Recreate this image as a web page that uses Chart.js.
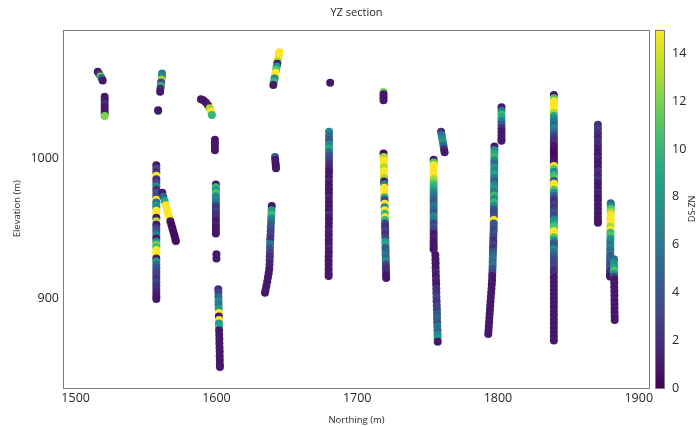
<!DOCTYPE html>
<html>
<head>
<meta charset="utf-8">
<title>YZ section</title>
<script src="https://cdn.jsdelivr.net/npm/chart.js@4.4.0/dist/chart.umd.min.js"></script>
<style>
  html, body { margin: 0; padding: 0; background: #ffffff; }
  canvas { display: block; }
</style>
</head>
<body>
<canvas id="section" width="699" height="426"></canvas>
<script>
// Drillhole samples projected on the YZ plane: [northing (m), elevation (m), DS-ZN]
const dh01 = [[1515.7,1061.9,1],[1516.8,1060.0,2],[1517.7,1058.4,12],[1518.4,1057.3,6],[1519.2,1055.6,1]];
const dh02 = [[1520.6,1044.0,1],[1520.6,1041.5,1],[1520.6,1039.0,2],[1520.6,1036.5,1],[1520.6,1034.0,1],[1520.6,1032.0,1],[1520.6,1030.2,12]];
const dh03 = [[1561.4,1060.5,6],[1561.2,1058.4,7],[1560.9,1056.2,13],[1560.7,1054.1,3],[1560.5,1051.9,10],[1560.2,1049.8,2],[1560.0,1047.6,1],
  [1558.6,1033.8,9],[1558.6,1034.4,1]];
const dh04 = [[1557.3,995,1],[1557.3,992.5,3],[1557.3,990,2],[1557.3,987.5,15],[1557.3,985,2],[1557.3,982.5,3],[1557.3,980,7],
  [1557.3,977.5,2],[1557.3,975,4],[1557.3,972.5,3],[1557.3,970.5,15],[1557.3,968.5,5],[1557.3,966.5,8],[1557.3,964.5,7],
  [1557.3,962.5,15],[1557.3,960,15],[1557.3,957.5,1],[1557.3,955,13],[1557.3,952.5,1],[1557.3,950,3],[1557.3,947.5,4],
  [1557.3,945,7],[1557.3,942.8,1],[1557.3,940.5,8],[1557.3,938.3,12],[1557.3,936.5,10],[1557.3,934.5,15],[1557.3,932.5,15],
  [1557.3,930.5,15],[1557.3,928.5,1],[1557.3,926.3,8],[1557.3,924,5],[1557.3,921.5,4],[1557.3,919,3],[1557.3,916.5,3],
  [1557.3,914,2],[1557.3,911.5,3],[1557.3,909,2],[1557.3,906.5,2],[1557.3,904,1.5],[1557.3,901.5,1],[1557.3,899.5,1]];
const dh05 = [[1561.5,975.5,1],[1562.3,972.5,5],[1563.2,969.5,9],[1564.0,966.5,15],[1564.8,963.5,15],[1565.7,960.5,15],
  [1566.5,957.5,15],[1567.3,955.0,1],[1568.0,952.5,0.5],[1568.7,950.0,0.5],[1569.4,947.5,0.5],[1570.1,945.0,0.5],
  [1570.7,942.5,0.5],[1571.2,941.0,0.5]];
const dh06 = [[1589.0,1042.2,1],[1590.7,1041.5,1],[1592.5,1039.8,1],[1594.0,1037.9,1],[1595.2,1035.8,13],[1596.1,1033.3,15],[1596.8,1030.9,10]];
const dh07 = [[1598.9,1013.2,1],[1598.9,1010.8,1],[1598.9,1008.3,1],[1598.9,1005.8,1],
  [1599.6,981.4,1],[1599.6,979.3,10],[1599.6,977.2,8],[1599.6,975.0,11],[1599.6,972.9,7],[1599.6,970.8,7],[1599.6,968.7,6],
  [1599.6,966.6,4],[1599.6,964.5,2],[1599.6,962.4,3],[1599.6,960.2,2],[1599.6,958.0,2],[1599.6,955.5,1],[1599.6,953.0,1.5],
  [1599.6,950.5,1],[1599.6,948.3,1],[1599.6,946.3,1],
  [1600.0,931.5,1],[1600.0,928.5,1],
  [1601.3,906.5,2],[1601.4,904,3],[1601.4,901,5],[1601.5,898,7],[1601.5,895.5,6],[1601.6,892.5,8],[1601.7,889.5,15],
  [1601.7,887,1],[1601.8,884.5,15],[1601.8,882,8],[1601.9,879.5,9],[1601.9,877,1],[1602.0,874,1],[1602.1,871,1],
  [1602.1,868,1],[1602.2,865,1],[1602.3,862,1],[1602.3,859,1],[1602.4,856,1],[1602.4,853,1],[1602.5,851,1]];
const dh08 = [[1644.7,1075.8,15],[1644.3,1073.6,15],[1643.9,1071.5,15],[1643.5,1069.4,13],[1643.2,1067.6,1],[1642.8,1065.5,8],
  [1642.4,1063.3,11],[1642.0,1061.2,15],[1641.6,1059.1,15],[1641.3,1057.0,7],[1640.9,1054.9,10],[1640.4,1052.4,1]];
const dh09 = [[1641.6,1001,4],[1641.8,998.8,1],[1642.0,996.5,1],[1642.2,994.5,1],[1642.3,993,1]];
const dh10 = [[1639.3,966,1],[1639.2,963,8],[1639.0,960,10],[1638.9,957,7],[1638.8,954,5],[1638.6,951,4],[1638.5,948,3],
  [1638.4,945,3],[1638.2,942,2],[1638.1,939,6],[1638.0,936,4],[1638.0,933,3],[1637.9,930,2],[1637.8,927,2],[1637.7,924,1.5],
  [1637.5,921,1],[1637.1,918,1],[1636.6,915,1],[1636.1,912,1],[1635.5,909,1],[1634.9,906,1],[1634.5,904,1]];
const dh11 = [[1680.8,1054.0,1]];
const dh12 = [[1680.0,1019,7],[1680.0,1016,5],[1680.0,1013,4],[1680.0,1010,7],[1680.0,1007,9],[1680.0,1004.5,6],[1680.0,1002,4],
  [1680.0,999,3],[1680.0,996,2],[1680.0,993,1.5],[1680.0,990,1],[1679.9,987,1],[1679.9,984,1.5],[1679.9,981,1],[1679.9,978,1],
  [1679.9,975,1],[1679.9,972,1.5],[1679.9,969,1],[1679.9,966,1],[1679.9,963,1],[1679.9,960,2],[1679.9,957,1],[1679.9,954,1],
  [1679.8,951,1],[1679.8,948,1.5],[1679.8,945,1],[1679.8,942,1],[1679.8,939,1],[1679.8,936,1.5],[1679.8,933,1],[1679.7,930,1],
  [1679.7,927,1],[1679.7,924,1],[1679.7,921,1],[1679.7,918,1],[1679.7,916,1]];
const dh13 = [[1718.7,1047.3,12],[1718.7,1045.8,1],[1718.7,1043.6,1],[1718.7,1041.4,1],
  [1718.7,1003.5,0.5],[1718.8,1001,13],[1718.8,998.5,15],[1718.9,996,15],[1718.9,993.5,13],[1719.0,991,15],[1719.0,988.5,15],
  [1719.1,986,13],[1719.1,983.5,1],[1719.2,981.5,7],[1719.2,979,15],[1719.3,976.5,15],[1719.3,974,15],[1719.4,972,9],
  [1719.4,970,3],[1719.5,967.5,15],[1719.5,965,7],[1719.6,963,15],[1719.6,960.5,10],[1719.7,958,15],[1719.7,956,10],
  [1719.8,953.5,3],[1719.8,951,2],[1719.9,948.5,3],[1719.9,946,2],[1720.0,943.5,3],[1720.0,940.5,8],[1720.1,938.5,9],
  [1720.1,936,4],[1720.2,933.5,5],[1720.2,931,6],[1720.3,928.5,5],[1720.3,926.5,7],[1720.4,924,3],[1720.4,921.5,2],
  [1720.5,919,2],[1720.5,916.5,1],[1720.6,914.5,1]];
const dh14 = [[1759.6,1019,2],[1760.0,1016.5,6],[1760.4,1014,7],[1760.9,1011.5,8],[1761.3,1009,5],[1761.7,1006.5,2],[1762.1,1004.3,1]];
const dh15 = [[1754.3,999,1],[1754.3,997,11],[1754.3,995,15],[1754.3,992.5,15],[1754.3,990,15],[1754.3,987.5,15],[1754.3,985,13],
  [1754.3,983,12],[1754.3,981,10],[1754.3,978.5,9],[1754.3,976,7],[1754.3,973.5,6],[1754.3,971,5],[1754.3,968.5,4],
  [1754.3,966,6],[1754.3,963.5,5],[1754.3,961,4],[1754.3,958.5,7],[1754.3,956,6],[1754.3,953.5,3],[1754.3,951,4],
  [1754.3,948.5,3],[1754.3,946,1],[1754.3,943.5,1.5],[1754.3,941,1],[1754.3,938.5,1],[1754.3,936.5,1],[1754.3,935,1],
  [1755.5,931,1],[1755.6,928,1],[1755.7,925,1],[1755.7,922,1],[1755.8,919,1.5],[1755.9,916,1],[1756.0,913,1.5],[1756.1,910,1],
  [1756.2,907,2],[1756.2,904,2],[1756.3,901,3],[1756.4,898,2],[1756.5,895,3],[1756.6,892,3],[1756.7,889,4],[1756.7,886,5],
  [1756.8,883,4],[1756.9,880,6],[1757.0,877,5],[1757.1,874,7],[1757.1,871.5,8],[1757.2,869,1]];
const dh16 = [[1802.5,1036.5,1],[1802.5,1034,6],[1802.5,1031.5,10],[1802.5,1029,9],[1802.5,1026.5,6],[1802.5,1024,4],
  [1802.5,1021.5,2],[1802.5,1019,1],[1802.5,1016.5,1],[1802.5,1014,1],[1802.5,1012.5,1]];
const dh17 = [[1797.5,1008.5,1],[1797.5,1006,7],[1797.5,1003.5,9],[1797.4,1001,10],[1797.4,998.5,7],[1797.4,996,5],[1797.4,993.5,8],
  [1797.3,991,7],[1797.3,988.5,9],[1797.3,986,6],[1797.3,983.5,4],[1797.3,981,7],[1797.2,978.5,8],[1797.2,976,6],
  [1797.2,973.5,10],[1797.2,971,7],[1797.1,968.5,10],[1797.1,966,7],[1797.1,963.5,4],[1797.1,961,3],[1797.1,958.5,4],
  [1797.0,956,15],[1797.0,953.5,4],[1797.0,951,4],[1796.9,948.5,3],[1796.8,946,4],[1796.7,943.5,3],[1796.7,941,2],
  [1796.6,938.5,3],[1796.5,936,2],[1796.4,933.5,4],[1796.4,931,5],[1796.3,928.5,6],[1796.2,926,5],[1796.2,923.5,6],
  [1796.1,921,4],[1796.0,918.5,3],[1795.9,916,1],[1795.8,913,1],[1795.6,910,1],[1795.4,907,1],[1795.2,904,1],[1794.9,901,1],
  [1794.7,898,1],[1794.5,895,1],[1794.3,892,1],[1794.1,889,1],[1793.9,886,1],[1793.7,883,1],[1793.5,880,1],[1793.3,877,1],
  [1793.1,874.6,1]];
const dh18 = [[1839.7,1045.2,1],[1839.7,1042.9,11],[1839.7,1040.7,15],[1839.7,1038.6,15],[1839.7,1036.5,15],[1839.7,1034.4,15],
  [1839.7,1032.3,13],[1839.7,1030.2,9],[1839.7,1028.1,7],[1839.7,1025.9,6],[1839.7,1023.8,5],[1839.7,1021.7,7],[1839.7,1019.6,6],
  [1839.7,1017.4,4],[1839.7,1015.3,3],[1839.7,1013.2,2],[1839.7,1011.1,2],[1839.7,1009,1],[1839.7,1006.8,1],[1839.7,1004.7,0.5],
  [1839.7,1002.6,0.5],[1839.7,1000.5,0.5],[1839.7,998.4,1],[1839.7,996.3,1],[1839.7,994.5,15],[1839.7,992.4,11],[1839.7,990.3,7],
  [1839.7,988.1,10],[1839.7,986,11],[1839.7,983.9,4],[1839.7,981.8,15],[1839.7,979.7,15],[1839.7,977.5,11],[1839.7,975.4,8],
  [1839.7,973.3,5],[1839.7,971.2,3],[1839.7,969.1,2],[1839.7,967,3],[1839.7,964.8,2],[1839.7,962.7,3],[1839.7,960.6,4],
  [1839.7,958.5,3],[1839.7,956.4,7],[1839.7,954.2,8],[1839.7,952.1,10],[1839.7,950,11],[1839.7,947.9,15],[1839.7,945.8,15],
  [1839.7,943.6,11],[1839.7,941.5,8],[1839.7,939.4,4],[1839.7,937.3,4],[1839.7,935.2,7],[1839.7,933.1,6],[1839.7,930.9,5],
  [1839.7,928.8,4],[1839.7,926.7,3],[1839.7,924.6,3],[1839.7,922.5,3],[1839.7,920.3,2],[1839.7,918.2,2],[1839.7,915,1],
  [1839.7,912,1],[1839.7,909,1],[1839.7,906,1],[1839.7,903,1],[1839.7,900,1],[1839.7,897,1],[1839.7,894,1],[1839.7,891,1],
  [1839.7,888,1],[1839.7,885,1],[1839.7,882,1],[1839.7,879,1],[1839.7,876,1],[1839.7,873,1],[1839.7,870,1]];
const dh19 = [[1871.0,1024,2],[1871.0,1021,2.5],[1871.0,1018,2],[1871.0,1015,1.5],[1871.0,1012,2],[1871.0,1009,1.5],[1871.0,1006,1],
  [1871.0,1003,1],[1871.0,1000,1.5],[1871.0,997,1],[1871.0,994,1],[1871.0,991,2],[1871.0,988,1.5],[1871.0,985,2],[1871.0,982,1],
  [1871.0,979,1],[1871.0,976,1.5],[1871.0,973,1],[1871.0,970,1],[1871.0,967,1],[1871.0,964,1],[1871.0,961,1],[1871.0,958,1],
  [1871.0,955,1],[1871.0,954,1]];
const dh20 = [[1880.1,968,5],[1880.1,965.9,7],[1880.1,963.8,11],[1880.0,961.6,13],[1880.0,959.5,15],[1880.0,957.4,15],
  [1880.0,955.3,15],[1880.0,953.2,15],[1879.9,951.1,13],[1879.9,948.9,15],[1879.9,946.8,10],[1879.9,944.7,11],[1879.9,942.6,8],
  [1879.8,940.5,7],[1879.8,938.3,6],[1879.8,936.2,7],[1879.8,934.1,5],[1879.8,932,6],[1879.7,929.9,4],[1879.7,927.8,5],
  [1879.7,925.6,4],[1879.7,923.5,3],[1879.7,921.4,4],[1879.6,919.3,2],[1879.6,917.2,2],[1879.6,915.7,1]];
const dh21 = [[1882.4,928,5],[1882.4,926,7],[1882.4,923.9,8],[1882.5,921.8,9],[1882.5,919.6,11],[1882.5,917.5,8],[1882.5,915.4,3],
  [1882.6,913.3,1],[1882.6,911,1],[1882.6,908,1],[1882.7,905,1],[1882.7,902,1],[1882.7,899,1],[1882.8,896,1],[1882.8,893,1],
  [1882.8,890,1],[1882.9,887,1],[1882.9,884.5,1]];

const drillholes = [dh01, dh02, dh03, dh04, dh05, dh06, dh07, dh08, dh09, dh10, dh11,
                    dh12, dh13, dh14, dh15, dh16, dh17, dh18, dh19, dh20, dh21];

// Axis ticks and colour scale range
const northingTicks = [1500, 1600, 1700, 1800, 1900];
const elevationTicks = [900, 1000];
const gradeTicks = [0, 2, 4, 6, 8, 10, 12, 14];
const gradeMin = 0, gradeMax = 15;

const chartTitle = 'YZ section';
const xTitle = 'Northing (m)';
const yTitle = 'Elevation (m)';
const gradeLabel = 'DS-ZN';

// viridis colour map
const VIRIDIS = ['#440154','#482475','#414487','#355f8d','#2a788e','#21918c','#22a884','#44bf70','#7ad151','#bddf26','#fde725'];
function hexRgb(h) { return [1, 3, 5].map(i => parseInt(h.slice(i, i + 2), 16)); }
const VIRIDIS_RGB = VIRIDIS.map(hexRgb);
function viridis(value) {
  let t = (value - gradeMin) / (gradeMax - gradeMin);
  t = Math.max(0, Math.min(1, t));
  const p = t * (VIRIDIS_RGB.length - 1);
  const i = Math.min(Math.floor(p), VIRIDIS_RGB.length - 2);
  const f = p - i;
  const a = VIRIDIS_RGB[i], b = VIRIDIS_RGB[i + 1];
  const c = a.map((v, k) => Math.round(v + (b[k] - v) * f));
  return `rgb(${c[0]},${c[1]},${c[2]})`;
}

const FONT = '"Open Sans", "DejaVu Sans", sans-serif';
const TEXT = '#262626';
const FRAME = '#7f7f7f';
const plainNumber = v => String(v);

const datasets = drillholes.map((rows, i) => ({
  label: 'hole ' + (i + 1),
  data: rows.map(r => ({ x: r[0], y: r[1] })),
  pointBackgroundColor: rows.map(r => viridis(r[2])),
  pointBorderWidth: 0,
  pointRadius: 4,
  pointHoverRadius: 4,
  showLine: false,
  order: drillholes.length - i
}));

// frame, colour bar, title and colour-bar label
const sectionDecor = {
  id: 'sectionDecor',
  afterDatasetsDraw(chart) {
    const { ctx, chartArea: a, scales } = chart;
    ctx.save();
    ctx.strokeStyle = FRAME;
    ctx.lineWidth = 1;
    ctx.strokeRect(Math.round(a.left) + 0.5, Math.round(a.top) + 0.5,
                   Math.round(a.right - a.left) - 1, Math.round(a.bottom - a.top) - 1);

    const cb = scales.cbar;
    const x0 = Math.round(cb.left) + 5, w = 10;
    const yTop = cb.getPixelForValue(gradeMax), yBot = cb.getPixelForValue(gradeMin);
    const g = ctx.createLinearGradient(0, yBot, 0, yTop);
    VIRIDIS.forEach((c, i) => g.addColorStop(i / (VIRIDIS.length - 1), c));
    ctx.fillStyle = g;
    ctx.fillRect(x0, yTop, w, yBot - yTop);
    ctx.strokeRect(x0 + 0.5, Math.round(yTop) + 0.5, w - 1, Math.round(yBot - yTop) - 1);

    ctx.fillStyle = TEXT;
    ctx.textAlign = 'center';
    ctx.textBaseline = 'middle';
    ctx.font = '11px ' + FONT;
    ctx.fillText(chartTitle, (a.left + a.right) / 2, 13);

    ctx.translate(692, (yTop + yBot) / 2);
    ctx.rotate(-Math.PI / 2);
    ctx.font = '9px ' + FONT;
    ctx.fillText(gradeLabel, 0, 0);
    ctx.restore();
  }
};

new Chart(document.getElementById('section'), {
  type: 'scatter',
  data: { datasets },
  options: {
    responsive: false,
    animation: false,
    devicePixelRatio: 1,
    events: [],
    layout: { padding: { top: 25, left: 0, right: 0, bottom: 0 } },
    plugins: { legend: { display: false }, tooltip: { enabled: false }, title: { display: false } },
    scales: {
      x: {
        type: 'linear', min: 1491, max: 1908,
        afterBuildTicks: s => { s.ticks = northingTicks.map(v => ({ value: v })); },
        afterFit: s => { s.height = 38; },
        grid: { display: false, drawTicks: false },
        border: { display: false },
        ticks: { color: TEXT, font: { family: FONT, size: 12.5 }, padding: 3, maxRotation: 0, callback: plainNumber },
        title: { display: true, text: xTitle, color: TEXT, font: { family: FONT, size: 9.5 }, padding: { top: 5, bottom: 0 } }
      },
      y: {
        type: 'linear', min: 836, max: 1092,
        afterBuildTicks: s => { s.ticks = elevationTicks.map(v => ({ value: v })); },
        afterFit: s => { s.width = 63; },
        grid: { display: false, drawTicks: false },
        border: { display: false },
        ticks: { color: TEXT, font: { family: FONT, size: 12.5 }, padding: 4, callback: plainNumber },
        title: { display: true, text: yTitle, color: TEXT, font: { family: FONT, size: 9.5 }, padding: { top: 12, bottom: 0 } }
      },
      cbar: {
        type: 'linear', position: 'right', axis: 'y', min: gradeMin, max: gradeMax,
        afterBuildTicks: s => { s.ticks = gradeTicks.map(v => ({ value: v })); },
        afterFit: s => { s.width = 49; },
        grid: { display: false, drawTicks: false },
        border: { display: false },
        ticks: { color: TEXT, font: { family: FONT, size: 12.5 }, padding: 22, callback: plainNumber }
      }
    }
  },
  plugins: [sectionDecor]
});
</script>
</body>
</html>
